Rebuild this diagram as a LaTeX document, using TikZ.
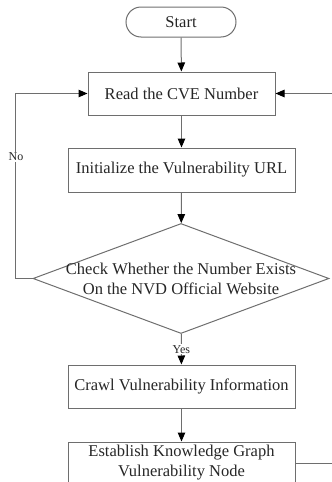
\documentclass[tikz,border=0pt]{standalone}
\usepackage{fontspec}
\setmainfont{Liberation Serif}
\usetikzlibrary{arrows.meta}
\usetikzlibrary{shapes.geometric}
\definecolor{linegray}{HTML}{6E6E6E}

\begin{document}
\begin{tikzpicture}[
        x=1pt, y=-1pt,
        font=\fontsize{16.5}{20}\selectfont,
        box/.style={draw=linegray, line width=1pt, rectangle, minimum width=227pt, minimum height=43pt, inner sep=0pt, align=center, text=black!85},
        flow/.style={-{Triangle[length=9pt, width=7.5pt, color=black]}, draw=linegray, line width=1pt},
        tag/.style={font=\fontsize{12}{14}\selectfont, fill=white, inner sep=1pt, text=black!85}
    ]
        % --- Marco de la figura ---
        \useasboundingbox (0,0) rectangle (332,482);
        \clip (0,0) rectangle (332,482);

        % --- Nodos del diagrama ---
        \node[box, minimum width=110pt, minimum height=30pt, rounded corners=15pt] (start) at (181,22) {Start};
        \node[box, minimum width=187pt] (read) at (181.5,93.5) {Read the CVE Number};
        \node[box, minimum height=44pt] (init) at (181.5,170) {Initialize the Vulnerability URL};
        \node[diamond, draw=linegray, line width=1pt, minimum width=296pt, minimum height=110pt, inner sep=0pt] (check) at (181,278.5) {};
        \node[align=center, text=black!85] (checktext) at (check.center) {Check Whether the Number Exists\\On the NVD Official Website};
        \node[box] (crawl) at (181.5,386.5) {Crawl Vulnerability Information};
        \node[box, minimum height=42pt] (graph) at (181.5,463) {Establish Knowledge Graph\\Vulnerability Node};

        % --- Flujo principal ---
        \draw[flow] (start) -- (read);
        \draw[flow] (read) -- (init);
        \draw[flow] (init) -- (check);
        \draw[flow] (check) -- (crawl) node[tag, pos=0.5] (yes) {Yes};
        \draw[flow] (crawl) -- (graph);

        % --- Retornos ---
        \draw[flow] (check.west) -- ++(-17,0) |- (read.west);
        \node[tag] (no) at (16,157) {No};
        \draw[flow] (graph.east) -- ++(60,0) |- (read.east);
    \end{tikzpicture}
\end{document}
